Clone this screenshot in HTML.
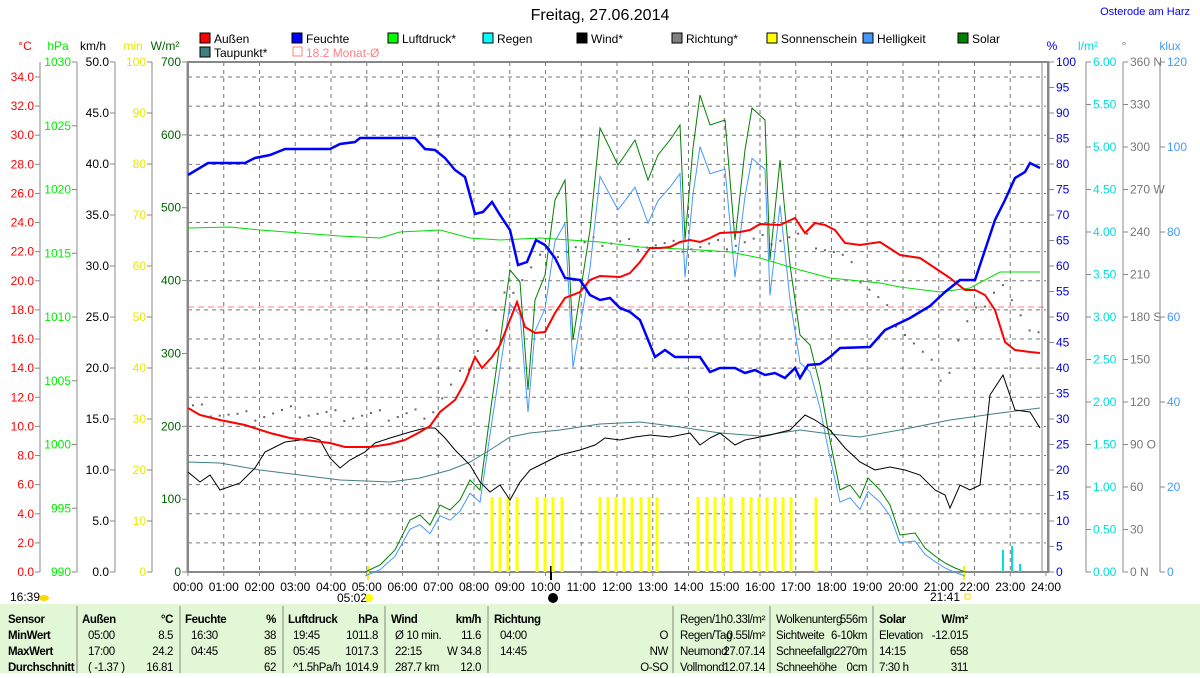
<!DOCTYPE html>
<html><head><meta charset="utf-8"><style>
body{margin:0;background:#fff;width:1200px;height:673px;overflow:hidden}
svg{font-family:"Liberation Sans",sans-serif;font-size:12px}
.tb text{font-size:11.5px;letter-spacing:-0.4px}
</style></head><body>
<svg id="s" width="1200" height="673" xmlns="http://www.w3.org/2000/svg">
<rect x="0" y="604" width="1200" height="69" fill="#e1f7d5"/>
<text x="600" y="20" font-size="16" text-anchor="middle">Freitag, 27.06.2014</text>
<text x="1190" y="15" font-size="11" fill="#0000ff" text-anchor="end">Osterode am Harz</text>
<g id="g"></g>
<g id="tb" class="tb"></g>
</svg>
<script>
const NS="http://www.w3.org/2000/svg",g=document.getElementById('g'),tb=document.getElementById('tb');
function el(t,a,txt,p){const e=document.createElementNS(NS,t);for(const k in a)e.setAttribute(k,a[k]);if(txt!==undefined)e.textContent=txt;(p||g).appendChild(e);return e;}
const X0=188,X1=1046,T=62,B=572;
for(let h=1;h<24;h++){const x=X0+h*35.75;el('line',{x1:x,y1:T,x2:x,y2:B,stroke:'#777','stroke-dasharray':'4,4'});}
for(let v=2;v<=34;v+=2){const y=B-v*14.56;el('line',{x1:X0,y1:y,x2:X1,y2:y,stroke:'#777','stroke-dasharray':'4,4'});}
el('line',{x1:X0,y1:307,x2:X1,y2:307,stroke:'#ff8080','stroke-dasharray':'6,4'});
el('rect',{x:X0,y:T,width:X1-X0+2,height:B-T,fill:'none',stroke:'#888','stroke-width':2});
el('line',{x1:1042,y1:T,x2:1042,y2:B,stroke:'#888'});
function axis(xl,col,vals,y0,step,fmt,side){el('line',{x1:xl,y1:T,x2:xl,y2:B,stroke:'#888'});
 vals.forEach((v,i)=>{const y=y0+i*step;el('line',{x1:side?xl:xl-5,y1:y,x2:side?xl+5:xl,y2:y,stroke:'#888'});
 el('text',{x:side?xl+7:xl-6,y:y+4,fill:col,'text-anchor':side?'start':'end'},fmt(v));});}
let a=[];for(let v=34;v>=0;v-=2)a.push(v);axis(40,'#ff0000',a,B-34*14.56,29.12,v=>v.toFixed(1));
a=[];for(let v=1030;v>=990;v-=5)a.push(v);axis(77,'#00ee00',a,T,63.75,v=>v);
a=[];for(let v=50;v>=0;v-=5)a.push(v);axis(115,'#000',a,T,51,v=>v.toFixed(1));
a=[];for(let v=100;v>=0;v-=10)a.push(v);axis(152,'#e8e800',a,T,51,v=>v);
a=[];for(let v=700;v>=0;v-=100)a.push(v);axis(187,'#006400',a,T,72.86,v=>v);
a=[];for(let v=100;v>=0;v-=5)a.push(v);axis(1049,'#0000dd',a,T,25.5,v=>v,1);
a=[];for(let v=6;v>=0;v-=.5)a.push(v);axis(1086,'#00dddd',a,T,42.5,v=>v.toFixed(2),1);
a=[];for(let v=360;v>=0;v-=30)a.push(v);const dn={360:'360 N',270:'270 W',180:'180 S',90:'90  O',0:'0   N'};axis(1123,'#777',a,T,42.5,v=>dn[v]||v,1);
a=[];for(let v=120;v>=0;v-=20)a.push(v);axis(1160,'#4499ff',a,T,85,v=>v,1);
[['°C',25,'#ff0000'],['hPa',58,'#00ee00'],['km/h',93,'#000'],['min',133,'#e8e800'],['W/m²',165,'#006400'],['%',1052,'#0000dd'],['l/m²',1088,'#00dddd'],['°',1124,'#777'],['klux',1170,'#4499ff']].forEach(l=>el('text',{x:l[1],y:50,fill:l[2],'text-anchor':'middle'},l[0]));
[['Außen',200,38,'#ff0000'],['Feuchte',292,38,'#0000ff'],['Luftdruck*',388,38,'#00ff00'],['Regen',483,38,'#00ffff'],['Wind*',577,38,'#000'],['Richtung*',672,38,'#808080'],['Sonnenschein',767,38,'#ffff00'],['Helligkeit',863,38,'#4499ff'],['Solar',958,38,'#008000'],['Taupunkt*',200,52,'#408080']].forEach(l=>{el('rect',{x:l[1],y:l[2]-5,width:10,height:10,fill:l[3],stroke:'#000'});el('text',{x:l[1]+14,y:l[2]+5},l[0]);});
el('rect',{x:293,y:47,width:9,height:9,fill:'none',stroke:'#ff8080'});el('text',{x:306,y:57,fill:'#ff8080'},'18.2 Monat-Ø');
for(let h=0;h<=24;h++){const x=X0+h*35.75;el('line',{x1:x,y1:B,x2:x,y2:B+4,stroke:'#888'});el('text',{x:x,y:591,'text-anchor':'middle'},(h<10?'0':'')+h+':00');}
el('text',{x:10,y:601},'16:39');el('ellipse',{cx:44,cy:598,rx:5,ry:3,fill:'#ffd700'});
el('text',{x:337,y:602},'05:02');el('circle',{cx:369,cy:598,r:4,fill:'#ffff00'});
el('text',{x:930,y:601},'21:41');el('rect',{x:965,y:594,width:5,height:5,fill:'none',stroke:'#ffd700'});
el('circle',{cx:553,cy:598,r:5,fill:'#000'});
el('line',{x1:368,y1:566,x2:368,y2:580,stroke:'#ffee00','stroke-width':2});el('line',{x1:964,y1:566,x2:964,y2:580,stroke:'#ffee00','stroke-width':2});el('line',{x1:551,y1:566,x2:551,y2:580,stroke:'#000','stroke-width':2});
[492,500,508,517,537,545,553,562,600,608,616,624,632,641,649,657,698,707,715,723,731,743,751,759,767,775,783,791,816].forEach(x=>el('rect',{x:x-1.5,y:497,width:3,height:75,fill:'#ffff00'}));
el('rect',{x:1002,y:550,width:2,height:22,fill:'#00e0e0'});el('rect',{x:1011,y:546,width:2,height:26,fill:'#00e0e0'});el('rect',{x:1019,y:564,width:2,height:8,fill:'#00e0e0'});
const dp=[[190,405],[240,415],[290,410],[340,415],[390,415],[430,410],[470,360],[500,300],[540,255],[600,240],[700,245],[800,235],[840,255],[880,300],[920,350],[945,380],[960,330],[1000,280],[1020,320],[1040,330]];
function dy(x){for(let i=0;i<dp.length-1;i++)if(x<=dp[i+1][0]){const[a,b]=dp[i],[c,d]=dp[i+1];return b+(d-b)*(x-a)/(c-a);}return 330;}
for(let x=192;x<1040;x+=8.9){const y=dy(x)+((x*7)%13)-6;el('rect',{x:x,y:y,width:2,height:2,fill:'#666'});}
function pl(pts,c,w){el('polyline',{points:pts,fill:'none',stroke:c,'stroke-width':w||1});}
const solar="365,572 380,565 395,550 410,520 420,515 430,525 440,505 450,510 460,500 470,480 480,490 492,400 510,270 520,282 528,390 535,300 545,275 555,200 565,180 573,340 590,230 600,128 618,165 625,155 635,140 648,180 658,155 670,140 680,125 685,240 693,148 700,95 710,125 725,120 735,240 745,150 752,108 765,120 770,260 780,160 790,265 800,335 810,345 820,385 828,430 840,490 850,485 860,498 868,478 880,490 890,505 900,535 915,533 925,548 935,556 945,563 955,568 965,572";
pl(solar.split(' ').map(p=>{const[a,b]=p.split(',');return a+','+(572-(572-b)*0.9+4);}).join(' '),'#4499ff');
pl(solar,'#008000');
pl("188,462 220,463 260,470 300,475 340,480 390,482 420,478 450,470 470,462 490,450 510,437 530,433 560,430 600,424 640,422 680,427 720,433 760,436 800,430 830,434 860,437 900,430 950,420 1000,413 1040,408",'#408080');
pl("188,228 230,227 260,230 300,233 340,236 380,238 400,232 440,230 470,238 500,240 540,238 600,242 640,247 700,250 730,252 760,258 800,270 830,278 880,283 900,287 940,292 970,288 1000,272 1040,272",'#00dd00');
pl("188,472 200,482 210,475 220,490 240,483 255,468 265,452 285,442 300,440 310,437 320,440 330,458 340,468 350,460 365,452 375,443 390,438 410,432 425,428 435,428 445,438 455,450 470,465 480,482 490,492 500,485 510,500 520,482 530,470 540,465 550,460 560,455 580,450 595,445 605,438 620,440 635,437 650,435 670,437 690,433 700,445 710,438 720,433 735,445 745,440 760,437 770,435 790,430 805,415 815,420 830,430 845,448 860,462 875,470 890,467 905,470 920,475 935,490 945,495 950,508 960,485 970,490 980,485 990,395 1003,375 1015,410 1030,412 1040,428",'#000');
pl("188,408 200,415 220,420 245,425 270,433 290,438 330,443 345,447 370,447 390,444 405,440 420,432 430,426 440,412 455,400 465,382 475,357 482,368 492,357 500,345 508,325 517,302 525,327 535,333 545,332 555,313 565,298 580,292 590,280 600,276 620,277 630,273 640,262 650,248 660,248 670,247 680,242 690,240 700,242 710,238 720,233 740,232 750,230 760,224 780,225 795,218 805,233 815,223 825,225 835,230 845,243 860,245 880,242 900,255 920,258 935,268 950,278 965,290 975,290 985,295 995,310 1005,342 1015,350 1030,352 1040,353",'#ff0000',2);
pl("188,175 208,163 245,163 255,158 270,155 285,149 330,149 340,144 355,142 360,138 415,138 425,149 435,150 445,158 455,170 465,177 475,214 483,212 492,202 500,215 510,230 518,265 527,262 536,240 545,245 555,258 565,278 580,280 590,295 600,300 610,298 620,308 630,312 640,320 655,357 665,350 675,357 700,357 710,372 720,368 735,368 745,373 755,370 765,375 775,373 785,378 795,368 800,378 808,365 820,364 830,357 840,348 870,347 885,330 910,318 930,306 945,292 960,280 975,280 985,250 995,220 1005,200 1015,178 1025,172 1030,163 1040,168",'#0000ff',2.5);
[77,180,283,385,488,673,770,873].forEach(x=>el('line',{x1:x,y1:606,x2:x,y2:673,stroke:'#888'}));
function t(x,y,s,b,end){el('text',{x:x,y:y,'font-weight':b?'bold':'normal','text-anchor':end?'end':'start'},s,tb);}
const R=[623,639,655,671];
['Sensor','MinWert','MaxWert','Durchschnitt'].forEach((s,i)=>t(8,R[i],s,1));
t(82,R[0],'Außen',1);t(173,R[0],'°C',1,1);t(185,R[0],'Feuchte',1);t(276,R[0],'%',1,1);t(288,R[0],'Luftdruck',1);t(378,R[0],'hPa',1,1);t(391,R[0],'Wind',1);t(481,R[0],'km/h',1,1);t(494,R[0],'Richtung',1);t(879,R[0],'Solar',1);t(968,R[0],'W/m²',1,1);
[['05:00','8.5','16:30','38','19:45','1011.8','Ø 10 min.','11.6','04:00','O'],['17:00','24.2','04:45','85','05:45','1017.3','  22:15','W 34.8','14:45','NW'],['( -1.37 )','16.81','','62','^1.5hPa/h','1014.9','  287.7 km','12.0','','O-SO']].forEach((r,i)=>{const y=R[i+1];t(88,y,r[0]);t(173,y,r[1],0,1);t(191,y,r[2]);t(276,y,r[3],0,1);t(293,y,r[4]);t(378,y,r[5],0,1);t(395,y,r[6]);t(481,y,r[7],0,1);t(500,y,r[8]);t(668,y,r[9],0,1);});
[['Regen/1h','0.33l/m²','Wolkenunterg','556m','',''],['Regen/Tag','0.55l/m²','Sichtweite','6-10km','Elevation','-12.015'],['Neumond','27.07.14','Schneefallgr','2270m','  14:15','658'],['Vollmond','12.07.14','Schneehöhe','0cm','7:30 h','311']].forEach((r,i)=>{const y=R[i];t(680,y,r[0]);t(765,y,r[1],0,1);t(776,y,r[2]);t(867,y,r[3],0,1);if(r[4]!==''){t(879,y,r[4]);t(968,y,r[5],0,1);}});
</script>
</body></html>
